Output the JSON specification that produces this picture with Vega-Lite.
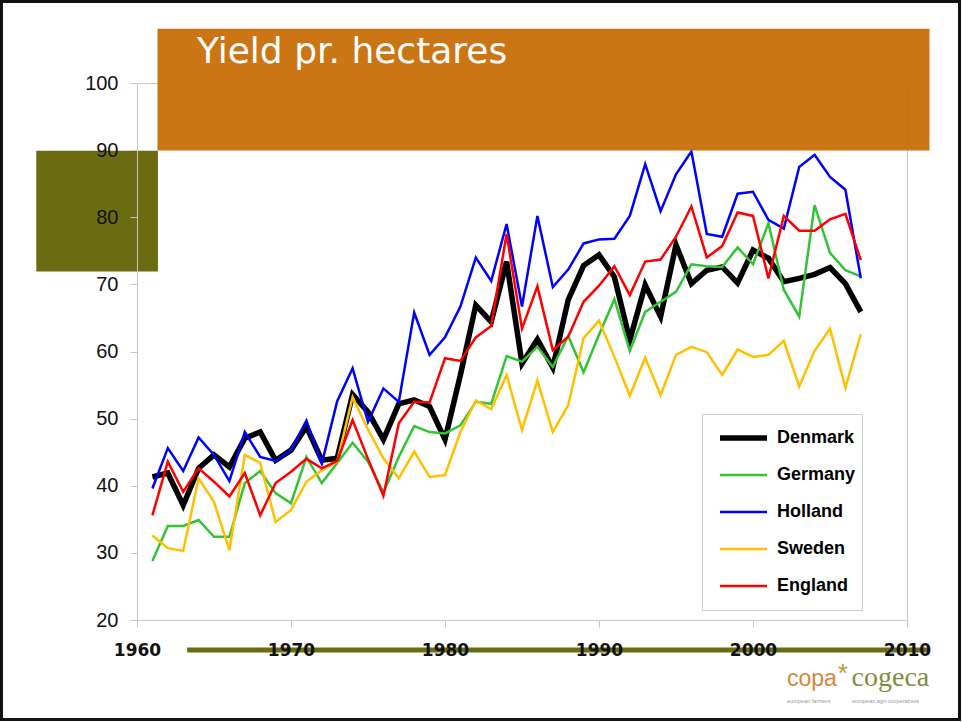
{
  "$schema": "https://vega.github.io/schema/vega-lite/v6.json",
  "width": 770,
  "height": 537,
  "autosize": {"type": "none"},
  "padding": {"left": 137, "top": 83, "right": 55, "bottom": 102},
  "background": "white",
  "title": {"text": "Yield pr. hectares", "anchor": "start", "frame": "group", "dx": 60, "offset": -99, "font": "DejaVu Sans", "fontSize": 36, "fontWeight": "normal", "color": "white", "baseline": "alphabetic", "zindex": 3},
  "datasets": {
    "yield": [
      {"year": 1961, "Denmark": 41.3, "Germany": 28.8, "Holland": 39.6, "Sweden": 32.6, "England": 35.6},
      {"year": 1962, "Denmark": 41.9, "Germany": 34.0, "Holland": 45.6, "Sweden": 30.7, "England": 43.6},
      {"year": 1963, "Denmark": 37.1, "Germany": 34.0, "Holland": 42.2, "Sweden": 30.3, "England": 39.1},
      {"year": 1964, "Denmark": 42.6, "Germany": 34.9, "Holland": 47.2, "Sweden": 41.1, "England": 42.6},
      {"year": 1965, "Denmark": 44.6, "Germany": 32.4, "Holland": 44.6, "Sweden": 37.6, "England": 40.6},
      {"year": 1966, "Denmark": 42.8, "Germany": 32.4, "Holland": 40.7, "Sweden": 30.4, "England": 38.4},
      {"year": 1967, "Denmark": 47.1, "Germany": 40.4, "Holland": 48.0, "Sweden": 44.6, "England": 41.9},
      {"year": 1968, "Denmark": 48.0, "Germany": 42.2, "Holland": 44.3, "Sweden": 43.4, "England": 35.6},
      {"year": 1969, "Denmark": 43.8, "Germany": 38.9, "Holland": 43.7, "Sweden": 34.6, "England": 40.4},
      {"year": 1970, "Denmark": 45.3, "Germany": 37.4, "Holland": 45.3, "Sweden": 36.4, "England": 42.1},
      {"year": 1971, "Denmark": 48.8, "Germany": 44.3, "Holland": 49.7, "Sweden": 40.6, "England": 44.0},
      {"year": 1972, "Denmark": 43.8, "Germany": 40.4, "Holland": 43.3, "Sweden": 42.3, "England": 42.6},
      {"year": 1973, "Denmark": 44.1, "Germany": 43.4, "Holland": 52.6, "Sweden": 43.6, "England": 43.7},
      {"year": 1974, "Denmark": 53.6, "Germany": 46.4, "Holland": 57.5, "Sweden": 53.2, "England": 49.8},
      {"year": 1975, "Denmark": 51.0, "Germany": 43.6, "Holland": 49.5, "Sweden": 48.4, "England": 44.0},
      {"year": 1976, "Denmark": 46.9, "Germany": 39.0, "Holland": 54.5, "Sweden": 44.1, "England": 38.5},
      {"year": 1977, "Denmark": 52.2, "Germany": 44.3, "Holland": 52.5, "Sweden": 41.1, "England": 49.3},
      {"year": 1978, "Denmark": 52.8, "Germany": 48.9, "Holland": 65.8, "Sweden": 45.1, "England": 52.5},
      {"year": 1979, "Denmark": 51.8, "Germany": 48.0, "Holland": 59.5, "Sweden": 41.3, "England": 52.4},
      {"year": 1980, "Denmark": 46.9, "Germany": 47.8, "Holland": 62.1, "Sweden": 41.6, "England": 59.0},
      {"year": 1981, "Denmark": 56.5, "Germany": 49.0, "Holland": 66.7, "Sweden": 48.0, "England": 58.6},
      {"year": 1982, "Denmark": 66.9, "Germany": 52.5, "Holland": 74.0, "Sweden": 52.7, "England": 62.1},
      {"year": 1983, "Denmark": 64.4, "Germany": 52.2, "Holland": 70.5, "Sweden": 51.4, "England": 63.8},
      {"year": 1984, "Denmark": 73.4, "Germany": 59.3, "Holland": 79.0, "Sweden": 56.5, "England": 77.5},
      {"year": 1985, "Denmark": 58.2, "Germany": 58.5, "Holland": 66.7, "Sweden": 48.3, "England": 63.4},
      {"year": 1986, "Denmark": 61.8, "Germany": 60.7, "Holland": 80.2, "Sweden": 55.7, "England": 69.7},
      {"year": 1987, "Denmark": 57.6, "Germany": 57.7, "Holland": 69.6, "Sweden": 48.0, "England": 60.2},
      {"year": 1988, "Denmark": 67.7, "Germany": 62.3, "Holland": 72.2, "Sweden": 52.0, "England": 62.2},
      {"year": 1989, "Denmark": 72.8, "Germany": 56.9, "Holland": 76.1, "Sweden": 62.0, "England": 67.4},
      {"year": 1990, "Denmark": 74.4, "Germany": 62.5, "Holland": 76.7, "Sweden": 64.6, "England": 69.8},
      {"year": 1991, "Denmark": 71.1, "Germany": 67.8, "Holland": 76.8, "Sweden": 59.2, "England": 72.7},
      {"year": 1992, "Denmark": 61.7, "Germany": 60.1, "Holland": 80.2, "Sweden": 53.4, "England": 68.4},
      {"year": 1993, "Denmark": 69.9, "Germany": 65.9, "Holland": 87.9, "Sweden": 59.1, "England": 73.4},
      {"year": 1994, "Denmark": 65.2, "Germany": 67.4, "Holland": 80.9, "Sweden": 53.5, "England": 73.7},
      {"year": 1995, "Denmark": 75.9, "Germany": 68.9, "Holland": 86.4, "Sweden": 59.5, "England": 77.1},
      {"year": 1996, "Denmark": 70.1, "Germany": 73.0, "Holland": 89.8, "Sweden": 60.7, "England": 81.6},
      {"year": 1997, "Denmark": 72.1, "Germany": 72.7, "Holland": 77.5, "Sweden": 59.9, "England": 74.0},
      {"year": 1998, "Denmark": 72.6, "Germany": 72.6, "Holland": 77.1, "Sweden": 56.5, "England": 75.7},
      {"year": 1999, "Denmark": 70.2, "Germany": 75.5, "Holland": 83.5, "Sweden": 60.3, "England": 80.7},
      {"year": 2000, "Denmark": 75.1, "Germany": 73.0, "Holland": 83.8, "Sweden": 59.2, "England": 80.2},
      {"year": 2001, "Denmark": 73.9, "Germany": 79.1, "Holland": 79.6, "Sweden": 59.5, "England": 70.9},
      {"year": 2002, "Denmark": 70.4, "Germany": 69.2, "Holland": 78.3, "Sweden": 61.6, "England": 80.2},
      {"year": 2003, "Denmark": 70.9, "Germany": 65.2, "Holland": 87.5, "Sweden": 54.8, "England": 78.0},
      {"year": 2004, "Denmark": 71.5, "Germany": 81.8, "Holland": 89.3, "Sweden": 60.1, "England": 78.0},
      {"year": 2005, "Denmark": 72.5, "Germany": 74.7, "Holland": 86.0, "Sweden": 63.4, "England": 79.7},
      {"year": 2006, "Denmark": 70.1, "Germany": 72.1, "Holland": 84.1, "Sweden": 54.6, "England": 80.5},
      {"year": 2007, "Denmark": 65.9, "Germany": 71.2, "Holland": 70.9, "Sweden": 62.6, "England": 73.6}
    ]
  },
  "layer": [
    {
      "data": {"values": [{}]},
      "mark": {"type": "rect", "color": "#6B6C11", "clip": false},
      "encoding": {
        "x": {"datum": 1953.46, "type": "quantitative"},
        "x2": {"datum": 1961.36},
        "y": {"datum": 89.9, "type": "quantitative"},
        "y2": {"datum": 71.93}
      }
    },
    {
      "data": {"name": "yield"},
      "transform": [{"fold": ["Denmark", "Germany", "Holland", "Sweden", "England"], "as": ["country", "value"]}],
      "mark": {"type": "line", "clip": false},
      "encoding": {
        "x": {"field": "year", "type": "quantitative", "title": null, "scale": {"domain": [1960, 2010], "nice": false, "zero": false}, "axis": {"values": [1960, 1970, 1980, 1990, 2000, 2010], "format": "d", "title": null, "zindex": 1}},
        "y": {"field": "value", "type": "quantitative", "title": null, "scale": {"domain": [20, 100], "nice": false, "zero": false}, "axis": {"values": [20, 30, 40, 50, 60, 70, 80, 90, 100], "title": null, "zindex": 1}},
        "color": {
          "field": "country", "type": "nominal",
          "scale": {"domain": ["Denmark", "Germany", "Holland", "Sweden", "England"], "range": ["#000000", "#33C433", "#0000FF", "#FFC000", "#FF0000"]},
          "legend": {"orient": "none", "legendX": 565, "legendY": 331, "title": null, "direction": "vertical", "fillColor": "white", "strokeColor": "#d0d0d0", "padding": 6, "symbolType": "stroke", "symbolSize": 2209, "clipHeight": 36, "rowPadding": 1, "symbolOffset": 9, "labelOffset": 7, "labelFont": "Liberation Sans", "labelFontSize": 18, "labelFontWeight": "bold", "labelColor": "#000000", "zindex": 2}
        },
        "strokeWidth": {
          "field": "country", "type": "nominal",
          "scale": {"type": "ordinal", "domain": ["Denmark", "Germany", "Holland", "Sweden", "England"], "range": [5.5, 2.5, 2.5, 2.5, 2.5]}
        }
      }
    },
    {
      "data": {"values": [{}]},
      "mark": {"type": "rect", "color": "#C96C06", "opacity": 0.94, "clip": false},
      "encoding": {
        "x": {"datum": 1961.33, "type": "quantitative"},
        "x2": {"datum": 2011.46},
        "y": {"datum": 89.95, "type": "quantitative"},
        "y2": {"datum": 108.1}
      }
    },
    {
      "data": {"values": [{}]},
      "mark": {"type": "rule", "color": "#6B6C11", "strokeWidth": 5, "clip": false},
      "encoding": {
        "x": {"datum": 1963.26, "type": "quantitative"},
        "x2": {"datum": 2011.46},
        "y": {"datum": 15.53, "type": "quantitative"}
      }
    },
    {
      "data": {"values": [{}]},
      "mark": {"type": "rect", "filled": false, "color": "#111111", "strokeWidth": 3, "clip": false},
      "encoding": {
        "x": {"datum": 1951.2, "type": "quantitative"},
        "x2": {"datum": 2013.41},
        "y": {"datum": 112.14, "type": "quantitative"},
        "y2": {"datum": 5.18}
      }
    },
    {
      "data": {"values": [{"t": "copa"}]},
      "mark": {"type": "text", "align": "left", "baseline": "alphabetic", "font": "Liberation Sans", "fontSize": 23, "color": "#D18A3C", "clip": false},
      "encoding": {"text": {"field": "t"}, "x": {"datum": 2002.21, "type": "quantitative"}, "y": {"datum": 10.17, "type": "quantitative"}}
    },
    {
      "data": {"values": [{"t": "*"}]},
      "mark": {"type": "text", "align": "left", "baseline": "alphabetic", "font": "Liberation Sans", "fontSize": 26, "color": "#C49A3A", "clip": false},
      "encoding": {"text": {"field": "t"}, "x": {"datum": 2005.5, "type": "quantitative"}, "y": {"datum": 10.8, "type": "quantitative"}}
    },
    {
      "data": {"values": [{"t": "cogeca"}]},
      "mark": {"type": "text", "align": "left", "baseline": "alphabetic", "font": "Liberation Serif", "fontSize": 28, "color": "#7E8E3E", "clip": false},
      "encoding": {"text": {"field": "t"}, "x": {"datum": 2006.4, "type": "quantitative"}, "y": {"datum": 10.17, "type": "quantitative"}}
    },
    {
      "data": {"values": [{"t": "european farmers"}]},
      "mark": {"type": "text", "align": "left", "baseline": "alphabetic", "font": "Liberation Sans", "fontSize": 5.5, "color": "#999999", "clip": false},
      "encoding": {"text": {"field": "t"}, "x": {"datum": 2002.21, "type": "quantitative"}, "y": {"datum": 7.63, "type": "quantitative"}}
    },
    {
      "data": {"values": [{"t": "european agri-cooperatives"}]},
      "mark": {"type": "text", "align": "left", "baseline": "alphabetic", "font": "Liberation Sans", "fontSize": 5.5, "color": "#999999", "clip": false},
      "encoding": {"text": {"field": "t"}, "x": {"datum": 2006.43, "type": "quantitative"}, "y": {"datum": 7.63, "type": "quantitative"}}
    }
  ],
  "config": {
    "font": "Liberation Sans",
    "view": {"stroke": "#c8c8c8", "strokeWidth": 1},
    "axis": {"grid": false, "domainColor": "#c8c8c8", "tickColor": "#c8c8c8", "tickSize": 7, "labelColor": "#111111", "labelFlush": false, "labelOverlap": false},
    "axisX": {"labelFont": "DejaVu Sans", "labelFontSize": 17, "labelFontWeight": "bold", "labelPadding": 15, "format": "d", "tickCount": 6},
    "axisY": {"labelFontSize": 20, "labelPadding": 12, "tickCount": 9}
  }
}
